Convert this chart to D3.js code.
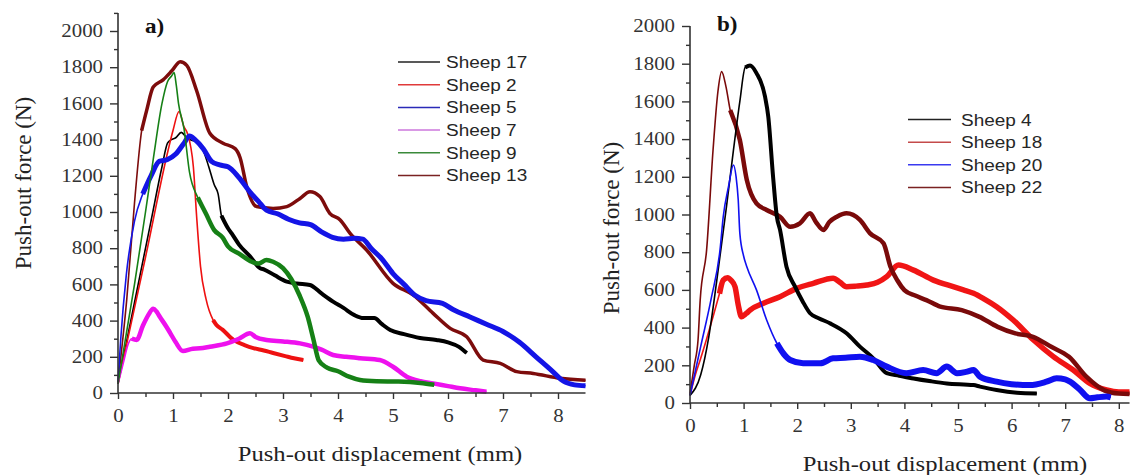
<!DOCTYPE html>
<html><head><meta charset="utf-8">
<script src="https://cdn.jsdelivr.net/npm/d3@7"></script>
<style>body{margin:0;background:#fff;} svg{display:block}</style>
</head><body><svg id="c" width="1130" height="475"></svg>
<script>
// ---------- DATA ----------
const xTickValues = [0,1,2,3,4,5,6,7,8];
const yTickValues = [0,200,400,600,800,1000,1200,1400,1600,1800,2000];
const panelLabels = ["a)", "b)"];
const xTitle = "Push-out displacement (mm)";
const yTitle = "Push-out force (N)";

const leftNames = ["Sheep 17","Sheep 2","Sheep 5","Sheep 7","Sheep 9","Sheep 13"];
const rightNames = ["Sheep 4","Sheep 18","Sheep 20","Sheep 22"];

const sheep17 = [[0,50],[0.2,350],[0.4,650],[0.6,950],[0.8,1250],[0.9,1380],[0.97,1400],[1.05,1410],[1.15,1440],[1.25,1410],[1.35,1395],[1.45,1390],[1.55,1340],[1.65,1250],[1.75,1150],[1.82,1100],[1.88,980],[2.0,910],[2.07,880],[2.2,820],[2.4,755],[2.58,690],[2.66,682],[2.85,650],[3.07,615],[3.25,605],[3.49,597],[3.7,550],[3.91,505],[4.1,470],[4.3,430],[4.46,414],[4.66,414],[4.8,380],[4.95,348],[5.2,325],[5.49,304],[5.79,293],[6.0,280],[6.2,255],[6.34,221]];
const sheep2 = [[0,50],[0.5,750],[0.91,1340],[1.0,1450],[1.11,1555],[1.2,1470],[1.26,1436],[1.37,1250],[1.43,974],[1.5,700],[1.6,520],[1.73,403],[1.79,376],[1.9,350],[2.1,293],[2.3,265],[2.46,248],[2.65,235],[2.82,221],[3.04,204],[3.2,192],[3.37,182]];
const sheep5 = [[0,60],[0.05,300],[0.15,650],[0.3,950],[0.45,1100],[0.6,1200],[0.75,1280],[0.9,1290],[1.05,1320],[1.2,1380],[1.3,1420],[1.4,1400],[1.55,1350],[1.7,1280],[1.85,1260],[2.0,1250],[2.2,1190],[2.4,1110],[2.55,1060],[2.7,1010],[2.9,990],[3.1,960],[3.3,940],[3.5,930],[3.7,890],[3.9,860],[4.1,850],[4.3,855],[4.45,850],[4.6,800],[4.8,740],[5.0,660],[5.2,600],[5.4,540],[5.6,510],[5.9,495],[6.1,460],[6.4,420],[6.7,380],[7.0,340],[7.3,280],[7.6,200],[7.9,120],[8.1,65],[8.3,45],[8.5,40]];
const sheep7 = [[0,50],[0.1,170],[0.19,274],[0.25,300],[0.34,293],[0.45,370],[0.55,430],[0.64,465],[0.7,450],[0.76,421],[0.88,366],[0.95,331],[1.05,280],[1.18,232],[1.36,245],[1.49,247],[1.67,256],[1.98,274],[2.2,300],[2.4,330],[2.5,310],[2.7,293],[3.0,285],[3.31,274],[3.55,256],[3.7,240],[3.91,210],[4.15,200],[4.4,192],[4.76,182],[5.0,145],[5.25,90],[5.5,65],[5.73,53],[6.0,38],[6.22,26],[6.5,15],[6.7,7]];
const sheep9 = [[0,50],[0.3,600],[0.5,1000],[0.64,1290],[0.8,1600],[0.9,1720],[0.97,1750],[1.02,1770],[1.06,1700],[1.1,1600],[1.2,1460],[1.3,1220],[1.45,1080],[1.6,990],[1.75,900],[1.9,860],[2.0,810],[2.2,770],[2.4,730],[2.55,715],[2.7,735],[2.82,725],[3.0,690],[3.15,630],[3.3,540],[3.45,420],[3.55,300],[3.65,180],[3.8,140],[4.0,120],[4.2,90],[4.4,72],[4.7,65],[5.1,63],[5.5,55],[5.75,45]];
const sheep13 = [[0,60],[0.16,520],[0.3,1050],[0.43,1450],[0.52,1560],[0.64,1690],[0.82,1730],[0.98,1780],[1.13,1830],[1.25,1810],[1.43,1670],[1.67,1435],[1.91,1380],[2.13,1350],[2.22,1300],[2.34,1140],[2.52,1030],[2.82,1020],[3.07,1030],[3.31,1075],[3.49,1112],[3.67,1085],[3.85,993],[4.04,956],[4.22,882],[4.52,790],[5.0,606],[5.37,541],[5.73,440],[6.04,357],[6.34,311],[6.64,182],[6.95,164],[7.25,118],[7.55,108],[8.04,81],[8.5,70]];

const sheep4 = [[0,40],[0.2,150],[0.35,350],[0.5,650],[0.68,1040],[0.81,1340],[0.93,1600],[1.03,1780],[1.12,1790],[1.24,1750],[1.4,1625],[1.46,1520],[1.55,1200],[1.62,990],[1.68,918],[1.8,723],[1.96,617],[2.1,540],[2.24,476],[2.4,450],[2.61,423],[2.92,370],[3.17,299],[3.42,237],[3.67,158],[3.9,145],[4.17,130],[4.5,115],[4.79,104],[5.29,95],[5.41,87],[5.72,69],[6.1,55],[6.47,51]];
const sheep18 = [[0,40],[0.1,150],[0.19,228],[0.3,330],[0.43,458],[0.55,580],[0.62,652],[0.7,665],[0.77,650],[0.84,617],[0.9,520],[0.96,458],[1.05,475],[1.12,493],[1.37,529],[1.68,564],[1.99,608],[2.3,635],[2.67,662],[2.8,640],[2.92,617],[3.1,620],[3.3,626],[3.5,640],[3.67,670],[3.89,732],[4.17,705],[4.54,652],[4.91,617],[5.1,600],[5.29,582],[5.5,550],[5.72,511],[6.03,440],[6.41,334],[6.78,246],[7.15,175],[7.46,104],[7.77,69],[8.0,58],[8.2,58]];
const sheep20 = [[0,40],[0.2,300],[0.4,560],[0.56,812],[0.62,988],[0.72,1150],[0.81,1263],[0.86,1200],[0.9,1077],[0.93,900],[1.0,780],[1.06,723],[1.24,600],[1.43,440],[1.62,317],[1.75,260],[1.87,228],[2.11,211],[2.43,211],[2.67,237],[2.9,240],[3.17,246],[3.42,228],[3.67,193],[4.04,158],[4.35,175],[4.6,158],[4.79,193],[4.98,158],[5.15,165],[5.29,175],[5.41,140],[5.72,113],[6.0,100],[6.34,95],[6.65,113],[6.84,131],[7.0,125],[7.09,113],[7.28,69],[7.46,25],[7.6,30],[7.77,34],[7.85,30]];
const sheep22 = [[0,50],[0.08,200],[0.15,334],[0.19,546],[0.31,812],[0.43,1342],[0.52,1650],[0.59,1758],[0.67,1680],[0.75,1554],[0.93,1395],[1.06,1183],[1.24,1059],[1.43,1024],[1.68,988],[1.87,935],[2.05,953],[2.24,1006],[2.35,960],[2.49,918],[2.6,960],[2.74,988],[2.92,1006],[3.17,971],[3.36,900],[3.61,847],[3.74,723],[3.87,650],[4.0,599],[4.2,570],[4.41,546],[4.67,511],[5.07,493],[5.4,457],[5.74,404],[6.07,369],[6.4,351],[6.74,298],[7.07,245],[7.4,138],[7.73,67],[8.0,50],[8.2,48]];

// ---------- STYLES ----------
const leftSeries = [
  {name: leftNames[5], data: sheep13, color:"#7d0c0c", legend:"#7a2222", thickFrom:0.4, w:3.5, li:5},
  {name: leftNames[0], data: sheep17, color:"#000000", legend:"#222222", thickFrom:1.85, w:4, li:0},
  {name: leftNames[1], data: sheep2, color:"#ee1111", legend:"#e03a3a", thickFrom:1.72, w:4, li:1},
  {name: leftNames[3], data: sheep7, color:"#ee11ee", legend:"#cc77dd", thickFrom:0.2, w:4.5, li:3},
  {name: leftNames[2], data: sheep5, color:"#1414e6", legend:"#2a2ab8", thickFrom:0.4, w:5, li:2},
  {name: leftNames[4], data: sheep9, color:"#168016", legend:"#3a8a3a", thickFrom:1.4, w:4.5, li:4}
];
const rightSeries = [
  {name: rightNames[1], data: sheep18, color:"#f01515", legend:"#c44a4a", thickFrom:0.5, w:5.5, li:1},
  {name: rightNames[3], data: sheep22, color:"#7a0a0a", legend:"#7a2222", thickFrom:0.7, w:4.5, li:3},
  {name: rightNames[0], data: sheep4, color:"#000000", legend:"#222222", thickFrom:0.95, w:4, li:0},
  {name: rightNames[2], data: sheep20, color:"#1010f0", legend:"#3a3af0", thickFrom:1.5, w:6, li:2}
];

const svg = d3.select("#c");
const SERIF = "'Liberation Serif','Times New Roman',serif";
const SANS = "'Liberation Sans',Arial,sans-serif";
const STRETCH = 1.16;

function addText(g, x, y, str, o) {
  const t = g.append("text")
    .attr("transform", `translate(${x},${y}) ${o.rotate ? "rotate(-90)" : ""} scale(${o.sx || 1},1)`)
    .attr("text-anchor", o.anchor || "start")
    .attr("font-family", o.family || SERIF)
    .attr("font-size", o.size)
    .attr("font-weight", o.weight || "normal")
    .attr("fill", o.fill || "#222")
    .text(str);
  if (o.dy) t.attr("dy", o.dy);
  return t;
}

function panel(cfg) {
  const g = svg.append("g");
  const clipId = "clip" + cfg.id;
  svg.append("defs").append("clipPath").attr("id", clipId)
    .append("rect").attr("x", cfg.x0 - 2).attr("y", 0).attr("width", cfg.clipRight - cfg.x0 + 2).attr("height", cfg.y0 + 2);

  const x = d3.scaleLinear().domain([0, cfg.xMax]).range([cfg.x0, cfg.x0 + cfg.xMax * cfg.xUnit]);
  const y = d3.scaleLinear().domain([0, 2000]).range([cfg.y0, cfg.y2000]);

  // curves
  const line = d3.line().x(d => x(d[0])).y(d => y(d[1])).curve(d3.curveMonotoneX);
  const cg = g.append("g").attr("clip-path", `url(#${clipId})`);
  cfg.series.forEach(s => {
    cg.append("path").attr("d", line(s.data)).attr("fill", "none")
      .attr("stroke", s.color).attr("stroke-width", 1.6).attr("stroke-linejoin", "round");
    const thick = s.data.filter(d => d[0] >= s.thickFrom);
    cg.append("path").attr("d", line(thick)).attr("fill", "none")
      .attr("stroke", s.color).attr("stroke-width", s.w)
      .attr("stroke-linejoin", "round").attr("stroke-linecap", "butt");
  });

  // axes
  const axCol = "#333";
  const fmt = d3.format("d");
  const yMinor = d3.range(100, cfg.yTop + 1, 200);
  const yAx = g.append("g").attr("transform", `translate(${cfg.x0},0)`)
    .call(d3.axisLeft(y).tickValues(yTickValues).tickFormat(fmt).tickSize(8).tickSizeOuter(0));
  yAx.select(".domain").attr("d", `M0,${y(cfg.yTop)}V${cfg.y0}`);
  g.append("g").attr("transform", `translate(${cfg.x0},0)`)
    .call(d3.axisLeft(y).tickValues(yMinor).tickSize(4).tickFormat("").tickSizeOuter(0))
    .select(".domain").remove();
  yAx.selectAll("text").attr("x", -15 / STRETCH).attr("transform", `scale(${STRETCH},1)`)
    .attr("font-family", SERIF).attr("font-size", 18).attr("fill", "#333");

  const xMinor = d3.range(0.5, cfg.xMax, 1);
  const xAx = g.append("g").attr("transform", `translate(0,${cfg.y0})`)
    .call(d3.axisBottom(x).tickValues(xTickValues).tickFormat(fmt).tickSize(6).tickPadding(10).tickSizeOuter(0));
  xAx.select(".domain").attr("d", `M${cfg.x0},0H${Math.min(x(cfg.xMax), cfg.clipRight)}`);
  g.append("g").attr("transform", `translate(0,${cfg.y0})`)
    .call(d3.axisBottom(x).tickValues(xMinor).tickSize(4).tickFormat("").tickSizeOuter(0))
    .select(".domain").remove();
  xAx.selectAll("text").attr("transform", `scale(${STRETCH},1)`)
    .attr("font-family", SERIF).attr("font-size", 18).attr("fill", "#333");
  g.selectAll(".domain").attr("stroke", axCol).attr("stroke-width", 1.6);
  g.selectAll(".tick line").attr("stroke", axCol).attr("stroke-width", 1.4);

  // titles
  addText(g, cfg.xTitleX, cfg.xTitleY, xTitle, {anchor:"middle", size:22, sx:1.12, fill:"#222"});
  addText(g, cfg.yTitleX, cfg.yTitleY, yTitle, {anchor:"middle", size:23, rotate:true, fill:"#222"});
  addText(g, cfg.labX, cfg.labY, cfg.label, {anchor:"start", size:21, weight:"bold", sx:1.1, fill:"#111"});

  // legend
  const ordered = cfg.series.slice().sort((a, b) => a.li - b.li);
  ordered.forEach((s, i) => {
    const ly = cfg.legY + i * cfg.legStep;
    g.append("line").attr("x1", cfg.legX1).attr("x2", cfg.legX2).attr("y1", ly).attr("y2", ly)
      .attr("stroke", s.legend).attr("stroke-width", 1.5);
    addText(g, cfg.legTextX, ly, s.name, {anchor:"start", size:16.5, sx:1.15, family:SANS, dy:"0.36em", fill:"#262626"});
  });
}

panel({id:"L", series:leftSeries, x0:118, xUnit:55, xMax:8.5, clipRight:586, y0:393, y2000:31, yTop:2100,
  xTitleX:380, xTitleY:461, yTitleX:31, yTitleY:183, label:panelLabels[0], labX:145, labY:33,
  legY:62, legStep:22.7, legX1:398, legX2:440, legTextX:446});
panel({id:"R", series:rightSeries, x0:690, xUnit:53.6, xMax:8.2, clipRight:1130, y0:403, y2000:26, yTop:2000,
  xTitleX:945, xTitleY:471, yTitleX:619, yTitleY:228, label:panelLabels[1], labX:717, labY:31,
  legY:119.6, legStep:22.6, legX1:908, legX2:951, legTextX:961});
</script></body></html>
